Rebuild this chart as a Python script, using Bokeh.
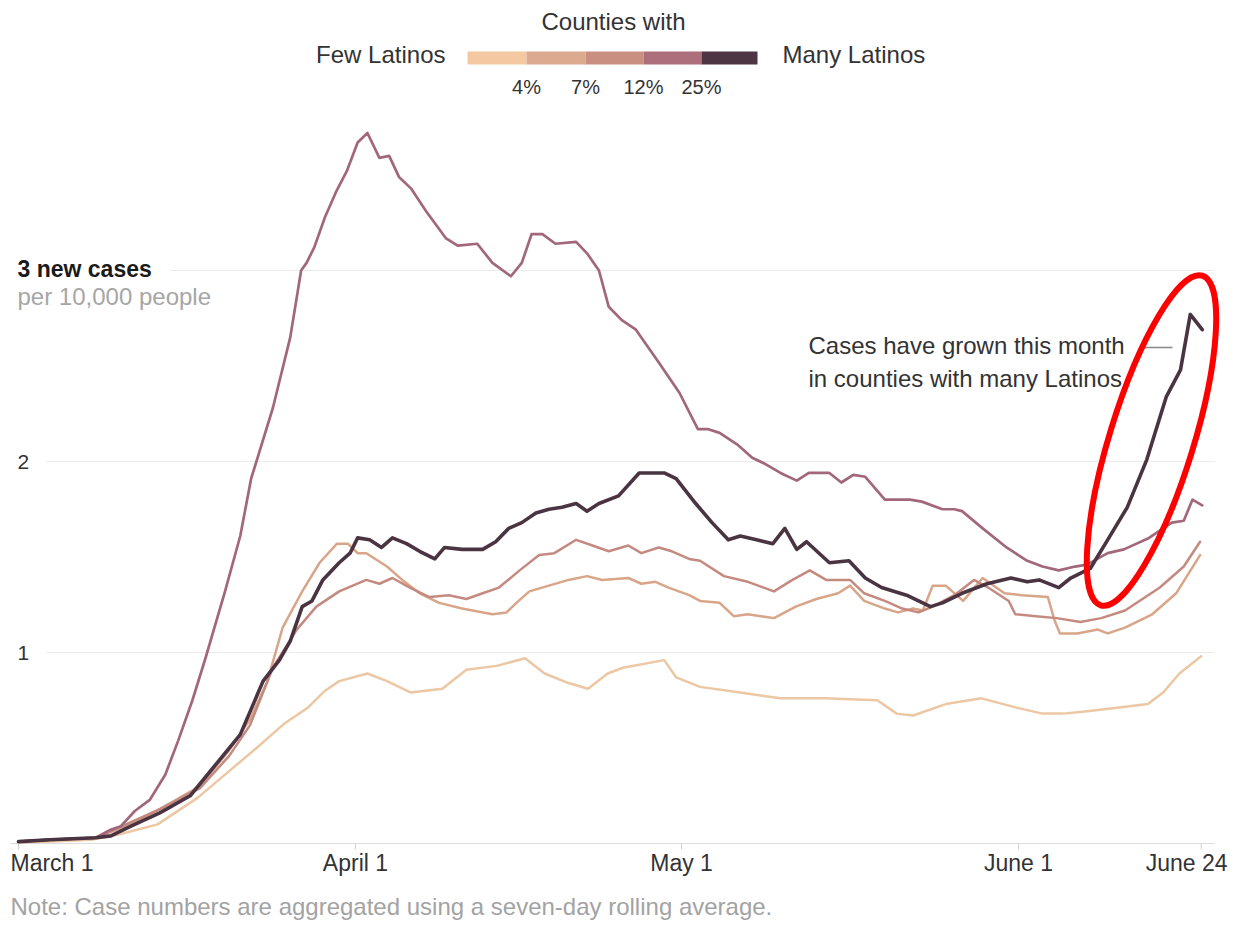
from bokeh.plotting import figure
from bokeh.models import Range1d, Label
from bokeh.embed import file_html
from bokeh.resources import INLINE

# ---------------- data (days since March 1, new cases per 10,000 people) ----------------
few_day = [0, 2.9, 6.7, 9.4, 12.8, 16.5, 19.4, 21.9, 24.5, 26.6, 28.2, 29.5, 32.1, 33.9, 36.1, 39.0,
           41.2, 44.0, 46.6, 48.4, 50.6, 52.4, 54.2, 55.6, 59.4, 60.5, 62.7, 66.4, 70.1, 74.1, 79.0,
           80.8, 82.3, 85.3, 88.6, 91.9, 94.2, 96.1, 97.9, 100.9, 103.9, 105.3, 106.8, 108.8]
few_val = [0.005, 0.01, 0.02, 0.05, 0.10, 0.24, 0.38, 0.50, 0.63, 0.71, 0.80, 0.85, 0.89, 0.85, 0.79, 0.81,
           0.91, 0.93, 0.97, 0.89, 0.84, 0.81, 0.89, 0.92, 0.96, 0.87, 0.82, 0.79, 0.76, 0.76, 0.75,
           0.68, 0.67, 0.73, 0.76, 0.71, 0.68, 0.68, 0.69, 0.71, 0.73, 0.79, 0.89, 0.98]

low_day = [0, 2.9, 7.1, 10.3, 13.0, 16.7, 19.4, 21.3, 22.9, 24.3, 26.1, 27.7, 29.3, 30.3, 31.2, 32.0,
           33.9, 35.3, 36.9, 38.7, 40.8, 43.6, 44.9, 45.8, 47.0, 48.8, 50.6, 52.3, 53.7, 56.1, 57.3,
           58.6, 59.8, 61.7, 62.7, 64.5, 65.8, 67.1, 69.5, 71.5, 73.4, 75.4, 76.5, 77.8, 79.7, 80.9,
           82.3, 83.2, 84.1, 85.3, 86.9, 88.7, 90.7, 92.3, 94.7, 95.3, 95.8, 97.4, 99.3, 100.2, 101.8,
           104.3, 106.5, 108.7]
low_val = [0.01, 0.02, 0.03, 0.10, 0.18, 0.30, 0.49, 0.65, 0.85, 1.13, 1.32, 1.47, 1.57, 1.57, 1.52, 1.52,
           1.45, 1.38, 1.31, 1.26, 1.23, 1.20, 1.21, 1.26, 1.32, 1.35, 1.38, 1.40, 1.38, 1.39, 1.36,
           1.37, 1.34, 1.30, 1.27, 1.26, 1.19, 1.20, 1.18, 1.24, 1.28, 1.31, 1.35, 1.27, 1.23, 1.21,
           1.23, 1.22, 1.35, 1.35, 1.27, 1.39, 1.31, 1.30, 1.29, 1.17, 1.10, 1.10, 1.12, 1.10, 1.13,
           1.20, 1.31, 1.51]

mid_day = [0, 2.9, 7.1, 10.3, 13.0, 16.7, 19.4, 21.3, 23.4, 25.6, 27.4, 29.5, 32.0, 33.2, 34.4, 36.0,
           37.8, 39.6, 41.2, 42.7, 44.2, 46.1, 47.9, 49.3, 51.3, 52.8, 54.3, 56.1, 57.3, 58.9, 60.1,
           61.7, 62.7, 64.9, 67.1, 69.5, 71.2, 72.8, 74.3, 76.5, 77.8, 79.7, 81.3, 82.8, 84.1, 86.1,
           87.9, 89.2, 91.1, 91.7, 93.6, 95.5, 97.7, 99.6, 101.8, 105.0, 107.2, 108.7]
mid_val = [0.01, 0.02, 0.03, 0.11, 0.18, 0.29, 0.46, 0.62, 0.92, 1.12, 1.24, 1.32, 1.38, 1.36, 1.39, 1.34,
           1.29, 1.30, 1.28, 1.31, 1.34, 1.43, 1.51, 1.52, 1.59, 1.56, 1.53, 1.56, 1.52, 1.55, 1.53,
           1.49, 1.48, 1.40, 1.37, 1.32, 1.38, 1.43, 1.38, 1.38, 1.31, 1.27, 1.23, 1.21, 1.24, 1.30,
           1.38, 1.34, 1.27, 1.20, 1.19, 1.18, 1.16, 1.18, 1.22, 1.34, 1.45, 1.58]

high_day = [0, 2.9, 7.1, 8.4, 9.4, 10.7, 12.1, 13.5, 14.7, 16.0, 17.2, 19.0, 20.4, 21.4, 23.4, 25.0,
            26.0, 26.5, 27.2, 28.2, 29.2, 30.2, 31.2, 32.1, 33.2, 34.1, 35.0, 36.1, 37.5, 39.3, 40.4,
            42.2, 43.6, 45.3, 46.3, 47.2, 48.2, 49.4, 51.3, 52.3, 53.4, 54.3, 55.5, 56.8, 59.0, 60.8,
            62.5, 63.4, 64.5, 66.1, 67.5, 68.6, 70.1, 71.6, 72.7, 74.6, 75.7, 76.8, 77.9, 79.7, 82.0,
            83.1, 85.0, 86.1, 86.8, 88.7, 90.9, 92.8, 94.2, 95.7, 97.2, 98.3, 100.2, 101.7, 104.0,
            106.1, 107.2, 108.0, 108.9]
high_val = [0.01, 0.02, 0.03, 0.07, 0.09, 0.17, 0.23, 0.36, 0.54, 0.75, 0.97, 1.32, 1.61, 1.91, 2.28, 2.65,
            3.00, 3.04, 3.12, 3.28, 3.41, 3.52, 3.67, 3.72, 3.59, 3.60, 3.49, 3.43, 3.31, 3.17, 3.13,
            3.14, 3.04, 2.97, 3.04, 3.19, 3.19, 3.14, 3.15, 3.09, 3.00, 2.81, 2.74, 2.69, 2.51, 2.36,
            2.17, 2.17, 2.15, 2.09, 2.02, 1.99, 1.94, 1.90, 1.94, 1.94, 1.89, 1.93, 1.92, 1.80, 1.80,
            1.79, 1.75, 1.75, 1.74, 1.65, 1.55, 1.48, 1.45, 1.43, 1.45, 1.46, 1.52, 1.54, 1.60,
            1.68, 1.69, 1.80, 1.77]

many_day = [0, 2.9, 7.1, 8.5, 10.3, 13.0, 15.8, 18.1, 20.4, 22.5, 24.0, 25.0, 26.1, 27.0, 28.0, 29.5,
            30.5, 31.2, 32.3, 33.4, 34.4, 35.7, 36.9, 38.3, 39.2, 40.8, 42.7, 43.9, 45.1, 46.3, 47.6,
            48.8, 50.0, 51.3, 52.3, 53.4, 55.2, 57.1, 59.4, 60.5, 62.3, 63.8, 65.3, 66.4, 67.9, 69.4,
            70.5, 71.6, 72.5, 74.6, 76.4, 77.9, 79.4, 81.7, 83.9, 85.0, 86.8, 89.1, 91.3, 92.8, 93.9,
            95.7, 96.8, 98.6, 100.2, 102.0, 103.8, 105.6, 106.9, 107.8, 108.9]
many_val = [0.01, 0.02, 0.03, 0.04, 0.09, 0.16, 0.25, 0.41, 0.57, 0.85, 0.96, 1.06, 1.24, 1.27, 1.38, 1.47,
            1.52, 1.60, 1.59, 1.55, 1.60, 1.57, 1.53, 1.49, 1.55, 1.54, 1.54, 1.58, 1.65, 1.68, 1.73,
            1.75, 1.76, 1.78, 1.74, 1.78, 1.82, 1.94, 1.94, 1.91, 1.78, 1.68, 1.59, 1.61, 1.59, 1.57,
            1.65, 1.54, 1.58, 1.47, 1.48, 1.39, 1.34, 1.30, 1.24, 1.26, 1.31, 1.36, 1.39, 1.37, 1.38,
            1.34, 1.39, 1.44, 1.59, 1.76, 2.01, 2.34, 2.48, 2.77, 2.69]

series_days = [few_day, low_day, mid_day, high_day, many_day]
series_vals = [few_val, low_val, mid_val, high_val, many_val]
series_colors = ["#ecc7a3", "#d9a588", "#c48a80", "#a2677a", "#4b3442"]
series_widths = [2.5, 2.5, 2.5, 2.7, 3.6]

legend_colors = ["#f4c9a1", "#dcaa8f", "#c98f80", "#ad6f7c", "#4e3543"]
legend_breaks = ["4%", "7%", "12%", "25%"]

tick_days = [0, 31, 61, 92, 108.8]
tick_labels = ["March 1", "April 1", "May 1", "June 1", "June 24"]
grid_vals = [1, 2, 3]

# ---------------- layout helpers (page pixel -> data) ----------------
W, H = 1230, 926
X0, PXD = 18.0, 10.87      # page x of day 0, pixels per day
Y0, PXU = 843.0, 191.0     # page y of value 0, pixels per unit


def dx(px):
    return (px - X0) / PXD


def dy(py):
    return (Y0 - py) / PXU


FONT = "Liberation Sans"

p = figure(width=W, height=H, output_backend="svg", toolbar_location=None,
           x_range=Range1d(dx(0), dx(W)), y_range=Range1d(dy(H), dy(0)),
           x_axis_type=None, y_axis_type=None, min_border=0)
p.outline_line_color = None
p.background_fill_color = "white"
p.border_fill_color = "white"

# gridlines (start after their labels)
grid_start = [dx(46), dx(46), dx(170)]
p.segment(x0=grid_start, y0=grid_vals, x1=[dx(1214)] * 3, y1=grid_vals,
          line_color="#ebebeb", line_width=1.2)

# baseline and ticks
p.segment(x0=[dx(10)], y0=[0], x1=[dx(1214)], y1=[0], line_color="#dcdcdc", line_width=1.2)
p.segment(x0=tick_days, y0=[0] * 5, x1=tick_days, y1=[dy(849)] * 5,
          line_color="#d0d0d0", line_width=1)

# series lines
for d, v, c, w in zip(series_days, series_vals, series_colors, series_widths):
    p.line(d, v, line_color=c, line_width=w, line_join="round", line_cap="round")


def lab(x, y, text, size, color="#333333", align="left", style="normal", baseline="middle"):
    p.add_layout(Label(x=x, y=y, text=text, text_font=FONT, text_font_size=f"{size}px",
                       text_color=color, text_align=align, text_baseline=baseline,
                       text_font_style=style))


# y labels
for gv in grid_vals[:2]:
    lab(dx(17), gv, str(gv), 21, "#333333")
lab(dx(17), dy(268), "3 new cases", 23, "#1a1a1a", style="bold")
lab(dx(17), dy(296), "per 10,000 people", 24, "#a6a6a6")

# x labels
aligns = ["left", "center", "center", "center", "right"]
offsets = [dx(10), None, None, None, dx(1227)]
for td, tl, al, off in zip(tick_days, tick_labels, aligns, offsets):
    lab(off if off is not None else td, dy(862), tl, 23, "#333333", align=al)

# note
lab(dx(10), dy(906), "Note: Case numbers are aggregated using a seven-day rolling average.", 24, "#a3a3a3")

# legend
lab(dx(613), dy(21), "Counties with", 24, "#333333", align="center")
lab(dx(445), dy(54), "Few Latinos", 24, "#333333", align="right")
lab(dx(782), dy(54), "Many Latinos", 24, "#333333", align="left")
edges = [467, 526, 585, 643, 701, 757]
p.quad(left=[dx(e) for e in edges[:-1]], right=[dx(e) for e in edges[1:]],
       bottom=[dy(64)] * 5, top=[dy(51)] * 5, fill_color=legend_colors, line_color=None)
for e, t in zip(edges[1:-1], legend_breaks):
    lab(dx(e), dy(86), t, 20, "#333333", align="center")

# annotation
lab(dx(808), dy(345), "Cases have grown this month", 24, "#333333")
lab(dx(808), dy(378), "in counties with many Latinos", 24, "#333333")
p.segment(x0=[dx(1140)], y0=[dy(347)], x1=[dx(1172)], y1=[dy(347)], line_color="#888888", line_width=1.5)

# red highlight ellipse
p.ellipse(x=[dx(1151)], y=[dy(440)], width=[345], height=[84], angle=[1.272],
          width_units="screen", height_units="screen",
          fill_color=None, line_color="#ff0000", line_width=6)

open("out.html", "w").write(file_html(p, INLINE))
